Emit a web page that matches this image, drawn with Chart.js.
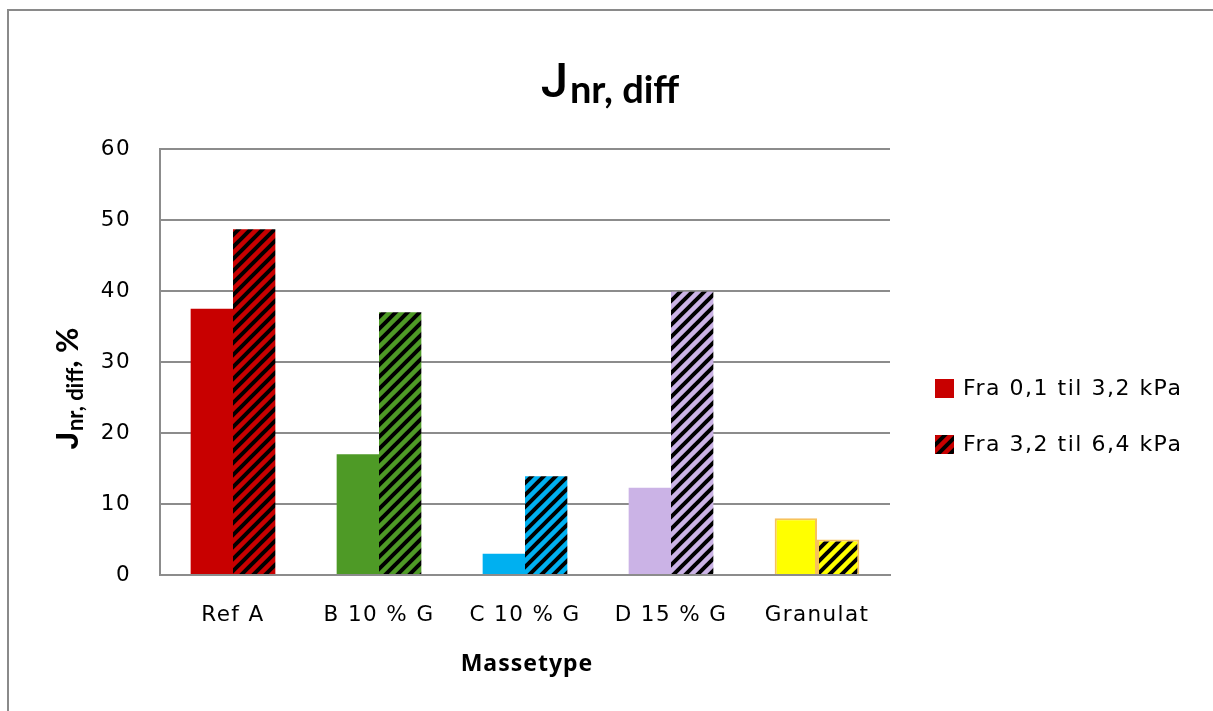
<!doctype html>
<html>
<head>
<meta charset="utf-8">
<title>Jnr, diff</title>
<script src="https://cdn.jsdelivr.net/npm/chart.js@4.4.1/dist/chart.umd.min.js"></script>
<style>
    html, body { margin: 0; padding: 0; background: #fff; }
    #wrap { position: relative; width: 1213px; height: 711px; overflow: hidden; }
    #frame { position: absolute; left: 7px; top: 9px; width: 1240px; height: 740px; border: 2px solid #8a8a8a; }
    #holder { position: absolute; left: 0; top: 0; width: 1213px; height: 711px; }
</style>
</head>
<body>
<div id="wrap">
    <div id="frame"></div>
    <div id="holder"><canvas id="myChart"></canvas></div>
</div>
<script>
    // data
    var categories = ['Ref A', 'B 10 % G', 'C 10 % G', 'D 15 % G', 'Granulat'];
    var low = [37.5, 17.0, 3.0, 12.3, 8.0];     // Fra 0,1 til 3,2 kPa
    var high = [48.7, 37.0, 13.9, 39.9, 5.0];   // Fra 3,2 til 6,4 kPa
    var seriesNames = ['Fra 0,1 til 3,2 kPa', 'Fra 3,2 til 6,4 kPa'];
    var barColors = ['#c80000', '#4e9a26', '#00b0f0', '#cbb3e6', '#ffff00'];
    var yTicks = [0, 10, 20, 30, 40, 50, 60];

    var ctx = document.getElementById('myChart').getContext('2d');

    // diagonal black hatch on a coloured background
    function hatch(color) {
        var c = document.createElement('canvas');
        var s = 12;
        c.width = s; c.height = s;
        var g = c.getContext('2d');
        g.fillStyle = color;
        g.fillRect(0, 0, s, s);
        g.strokeStyle = '#000';
        g.lineWidth = 4;
        g.beginPath();
        for (var k = -1; k <= 1; k++) {
            g.moveTo(-3 + k * s, s + 3); g.lineTo(s + 3 + k * s, -3);
        }
        g.stroke();
        return ctx.createPattern(c, 'repeat');
    }

    var hatched = barColors.map(hatch);
    var borders = barColors.map(function (c) { return c === '#ffff00' ? '#f7c25c' : c; });
    var borderW = barColors.map(function (c) { return c === '#ffff00' ? 2 : 0; });

    // title, axis titles (with subscripts) and legend
    var textPlugin = {
        id: 'texts',
        beforeDraw: function (chart) {
            chart.ctx.letterSpacing = '1.4px';
        },
        afterDraw: function (chart) {
            var g = chart.ctx;
            g.save();
            g.letterSpacing = '0px';
            g.fillStyle = '#000';
            g.textBaseline = 'alphabetic';

            // title
            var f1 = '500 49px Roboto', f2 = 'bold 38px Lato';
            g.font = f1; var w1 = g.measureText('J').width;
            g.font = f2; var w2 = g.measureText('nr, diff').width;
            var x0 = 609 - (w1 + w2) / 2;
            g.font = f1; g.fillText('J', x0, 97);
            g.font = f2; g.fillText('nr, diff', x0 + w1 + 2, 103);

            // x title
            g.font = 'bold 23px "Noto Sans"';
            g.letterSpacing = '1px';
            g.textAlign = 'center';
            g.textBaseline = 'middle';
            g.fillText('Massetype', 527, 664);
            g.textAlign = 'left';
            g.textBaseline = 'alphabetic';
            g.letterSpacing = '0px';

            // y label
            g.translate(78, 389);
            g.rotate(-Math.PI / 2);
            var a = 'bold 31px Lato', aj = 'bold 31px Roboto', b = 'bold 22px Lato';
            g.font = aj; var wa = g.measureText('J').width;
            g.font = b; var wb = g.measureText('nr, diff').width;
            g.font = a; var wc = g.measureText(', %').width;
            var sx = -(wa + wb + wc) / 2;
            g.font = aj; g.fillText('J', sx, 0);
            g.font = b; g.fillText('nr, diff', sx + wa + 1, 5);
            g.font = a; g.fillText(', %', sx + wa + wb + 1, 0);
            g.setTransform(1, 0, 0, 1, 0, 0);

            // legend
            var fills = [barColors[0], hatched[0]];
            g.font = '22px "DejaVu Sans"';
            g.letterSpacing = '1.5px';
            g.textBaseline = 'middle';
            for (var i = 0; i < 2; i++) {
                var y = 379 + i * 56;
                g.fillStyle = fills[i];
                g.fillRect(935, y, 19, 19);
                g.fillStyle = '#000';
                g.fillText(seriesNames[i], 963, y + 10);
            }
            g.restore();
        }
    };

    var myChart = new Chart(ctx, {
        type: 'bar',
        data: {
            labels: categories,
            datasets: [{
                label: seriesNames[0],
                data: low,
                backgroundColor: barColors,
                borderColor: borders,
                borderWidth: borderW
            }, {
                label: seriesNames[1],
                data: high,
                backgroundColor: hatched,
                borderColor: borders,
                borderWidth: borderW
            }]
        },
        options: {
            responsive: true,
            maintainAspectRatio: false,
            animation: false,
            layout: { padding: { left: 0, right: 323, top: 149, bottom: 0 } },
            datasets: { bar: { barPercentage: 1, categoryPercentage: 0.58 } },
            plugins: {
                legend: { display: false },
                tooltip: { enabled: false },
                title: { display: false }
            },
            scales: {
                x: {
                    grid: { display: false, drawTicks: false },
                    border: { color: '#8c8c8c', width: 2 },
                    ticks: { color: '#000', padding: 28, font: { family: 'DejaVu Sans', size: 21.5 } },
                    afterFit: function (s) { s.height = 136; }
                },
                y: {
                    min: 0, max: 60,
                    afterBuildTicks: function (s) { s.ticks = yTicks.map(function (v) { return { value: v }; }); },
                    grid: { color: '#8c8c8c', lineWidth: 2, drawTicks: false },
                    border: { display: true, color: '#8c8c8c', width: 2 },
                    ticks: { color: '#000', padding: 29, font: { family: 'DejaVu Sans', size: 21.5 } },
                    afterFit: function (s) { s.width = 160; }
                }
            }
        },
        plugins: [textPlugin]
    });
</script>
</body>
</html>
